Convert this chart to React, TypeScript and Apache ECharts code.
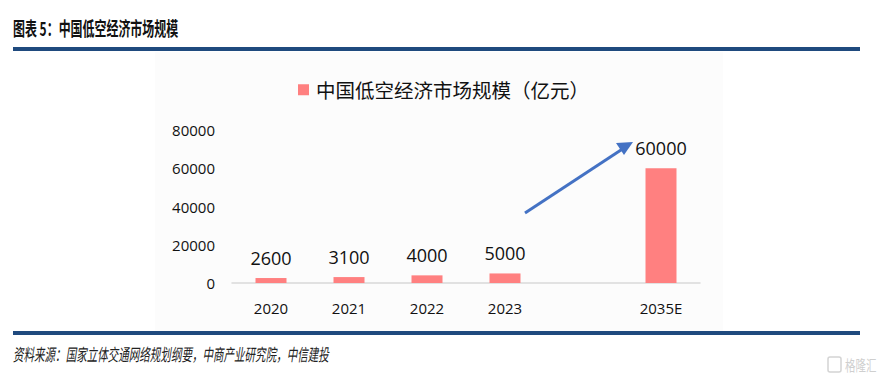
import React, { useEffect, useRef } from "react";
import * as echarts from "echarts";

const categories = ["2020", "2021", "2022", "2023", "", "2035E"];
const marketSize = [2600, 3100, 4000, 5000, null, 60000];
const seriesName = "中国低空经济市场规模（亿元）";
const titleText = "图表 5：中国低空经济市场规模";
const sourceText = "资料来源：国家立体交通网络规划纲要，中商产业研究院，中信建投";

export default function App() {
  const ref = useRef<HTMLDivElement>(null);
  useEffect(() => {
    if (!ref.current) return;
    const chart = echarts.init(ref.current, null, { renderer: "svg" });
    const blue = "#1f4a7e";
    chart.setOption({
      animation: false,
      backgroundColor: "#ffffff",
      textStyle: { fontFamily: "'Open Sans', 'Noto Sans CJK SC', sans-serif" },
      grid: { left: 232, right: 180, top: 130, bottom: 101 },
      legend: {
        data: [seriesName],
        left: 293,
        top: 75,
        itemWidth: 11,
        itemHeight: 11,
        itemGap: 8,
        icon: "rect",
        textStyle: { fontSize: 19.5, color: "#111", fontFamily: "'Noto Sans CJK SC', sans-serif", padding: [0, 0, 0, 2] },
      },
      xAxis: {
        type: "category",
        data: categories,
        axisLine: { lineStyle: { color: "#d9d9d9", width: 1.5 } },
        axisTick: { show: false },
        axisLabel: { fontSize: 15, color: "#111", margin: 17 },
      },
      yAxis: {
        type: "value",
        min: 0,
        max: 80000,
        interval: 20000,
        axisLine: { show: false },
        axisTick: { show: false },
        splitLine: { show: false },
        axisLabel: { fontSize: 15, color: "#111", margin: 17, formatter: (v: number) => String(v) },
      },
      series: [
        {
          name: seriesName,
          type: "bar",
          data: marketSize,
          barWidth: 31,
          itemStyle: { color: "#ff8080" },
          label: { show: true, position: "top", distance: 11, fontSize: 18, color: "#111" },
        },
      ],
      graphic: [
        { type: "rect", z: -10, shape: { x: 155, y: 52, width: 568, height: 279 }, style: { fill: "#fcfcfc" } },
        {
          type: "text",
          x: 13,
          y: 28,
          scaleX: 0.63,
          style: {
            text: titleText,
            fontSize: 19,
            fontWeight: "bold",
            fontFamily: "'Noto Sans CJK SC', sans-serif",
            fill: "#111",
            verticalAlign: "middle",
          },
        },
        { type: "rect", shape: { x: 13, y: 47, width: 847, height: 4 }, style: { fill: blue } },
        { type: "rect", shape: { x: 13, y: 331, width: 847, height: 4 }, style: { fill: blue } },
        {
          type: "text",
          x: 13,
          y: 354,
          scaleX: 0.62,
          style: {
            text: sourceText,
            fontSize: 17,
            fontStyle: "italic",
            fontFamily: "'Noto Sans CJK SC', sans-serif",
            fill: "#222",
            verticalAlign: "middle",
          },
        },
        {
          type: "line",
          shape: { x1: 525, y1: 213, x2: 624, y2: 148 },
          style: { stroke: "#4472c4", lineWidth: 3 },
        },
        {
          type: "polygon",
          shape: { points: [[633, 142], [616, 143], [624, 155]] },
          style: { fill: "#4472c4" },
        },
        { type: "rect", shape: { x: 828, y: 357, width: 13, height: 15, r: 2 }, style: { fill: "none", stroke: "#d4d4d4", lineWidth: 1.5 } },
        {
          type: "text",
          x: 845,
          y: 365,
          style: { text: "格隆汇", fontSize: 15, fill: "#cfcfcf", fontFamily: "'Noto Sans CJK SC', sans-serif", verticalAlign: "middle" },
          scaleX: 0.7,
        },
      ],
    });
    return () => chart.dispose();
  }, []);
  return <div ref={ref} style={{ position: "fixed", left: 0, top: 0, width: 880, height: 384 }} />;
}
